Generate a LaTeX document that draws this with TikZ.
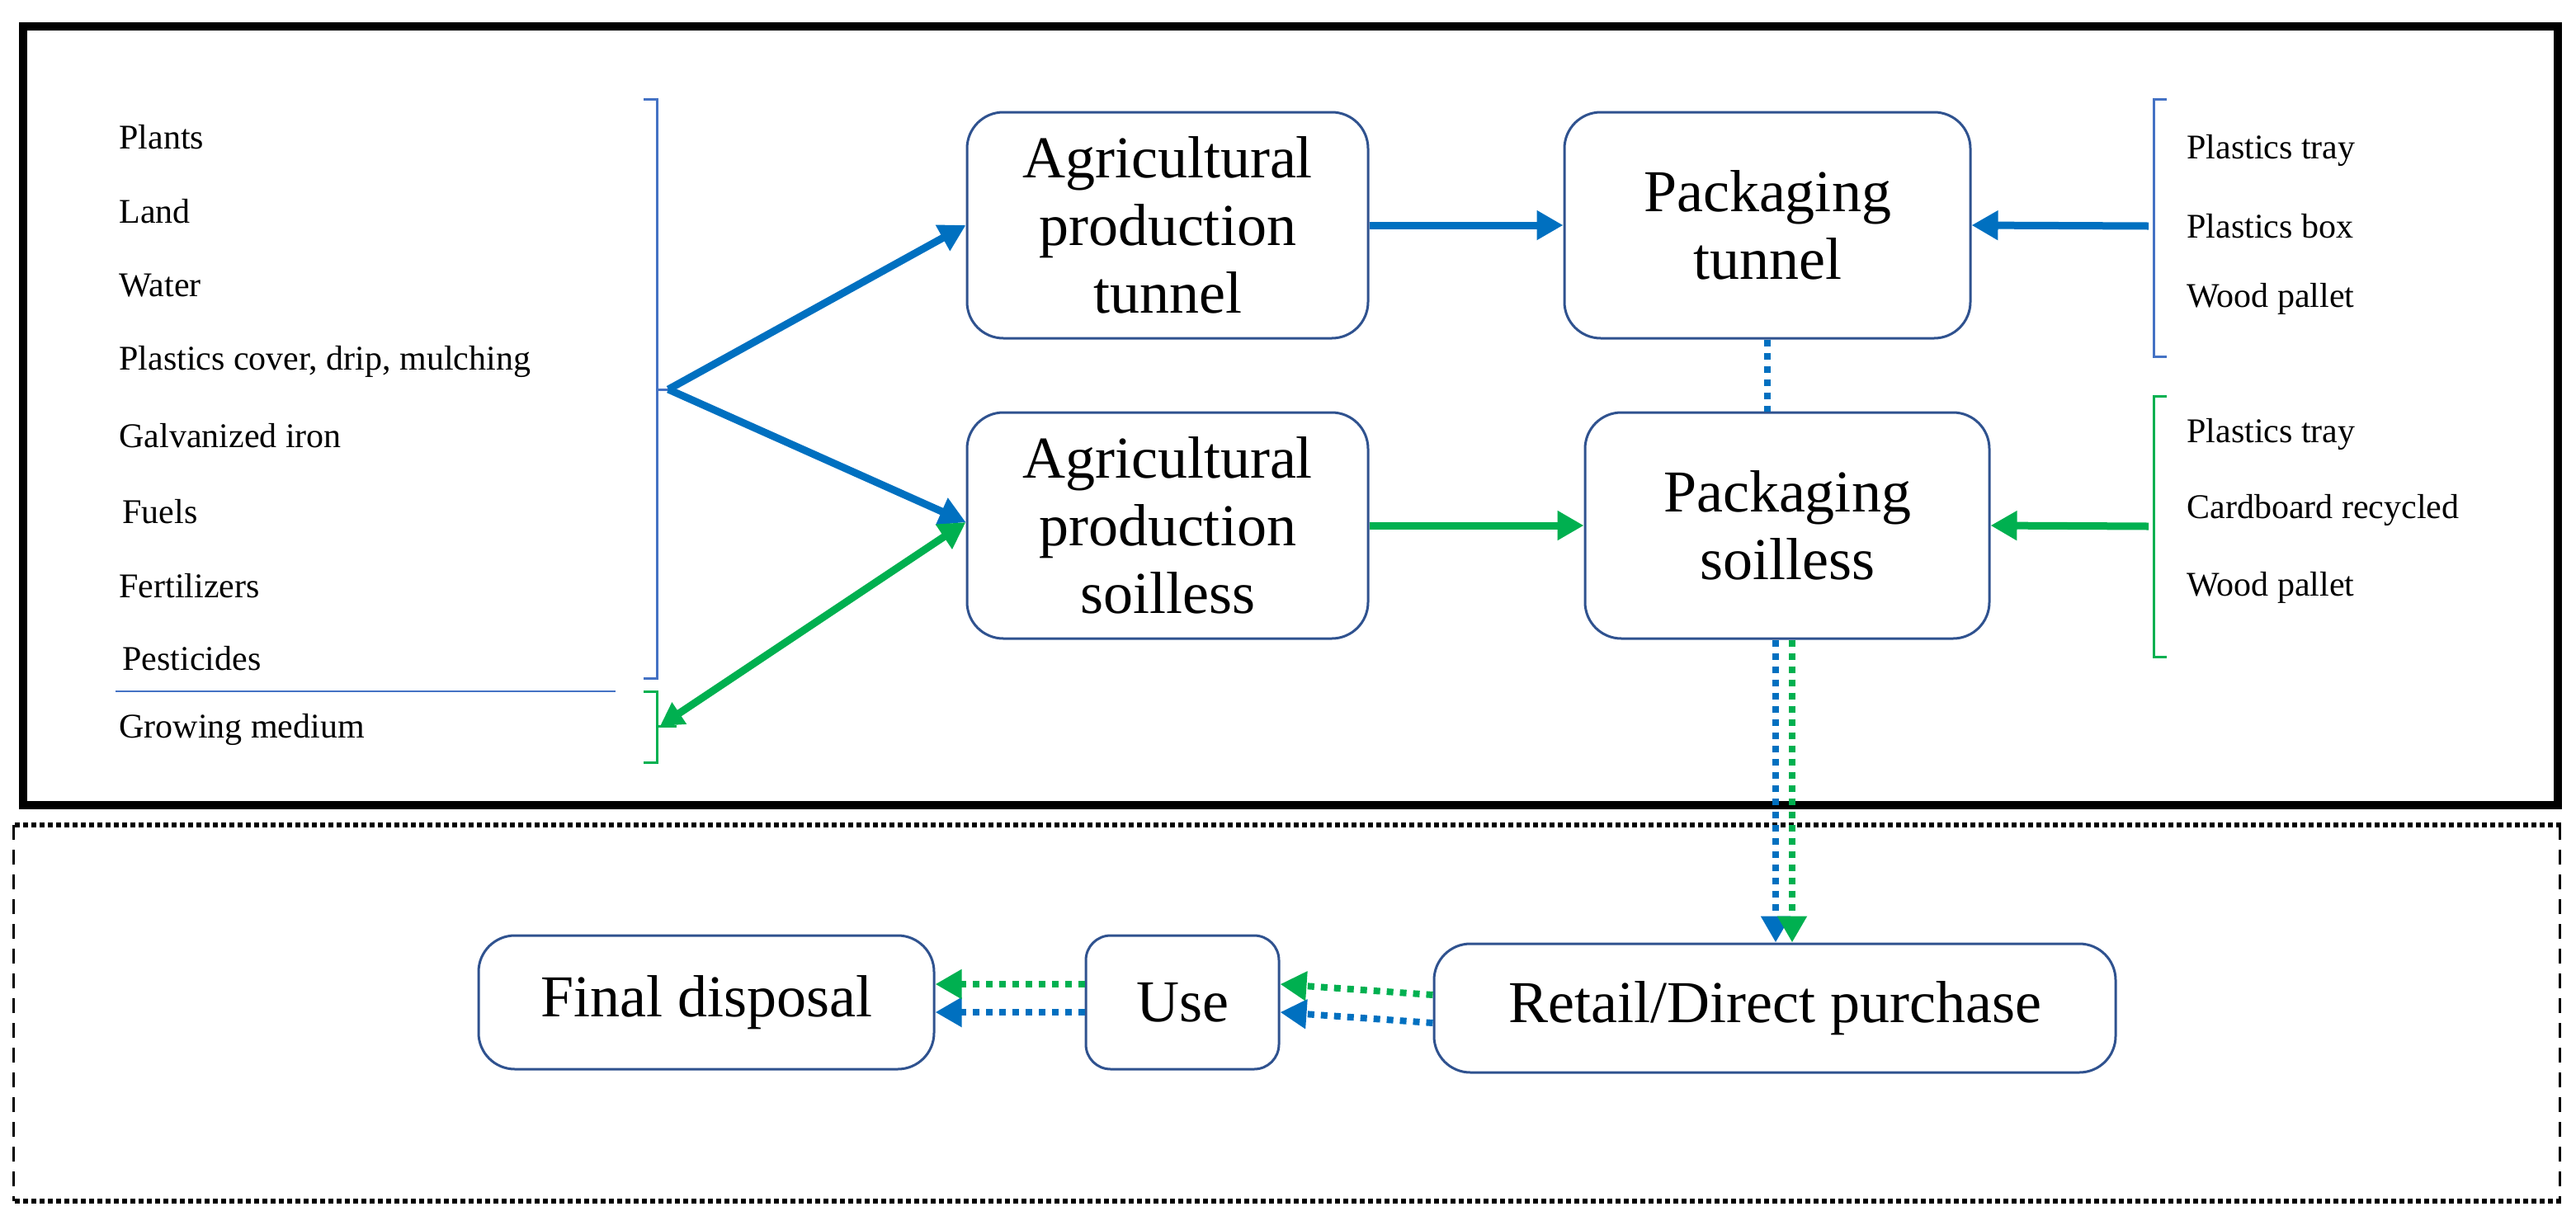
\documentclass[tikz,border=0pt]{standalone}
\usepackage{fontspec}
\setmainfont{Liberation Serif}
\usetikzlibrary{arrows.meta}
\definecolor{cb}{RGB}{0,112,192}
\definecolor{cg}{RGB}{0,176,80}
\definecolor{br}{RGB}{68,114,196}
\definecolor{bx}{RGB}{47,82,143}
\begin{document}
\begin{tikzpicture}[x=1pt,y=-1pt,
  box/.style={draw=bx,line width=1.5pt,rounded corners=22pt,align=center,font=\fontsize{36}{41}\selectfont,inner sep=0pt},
  lab/.style={anchor=west,font=\fontsize{21}{24}\selectfont,inner sep=0pt},
  tip/.style={-{Triangle[length=16pt,width=17pt]}},
  arr/.style={tip,line width=4.5pt},
  dots/.style={line width=4pt,dash pattern=on 4pt off 4pt},
  brk/.style={line width=1.5pt}]
\useasboundingbox (0,0) rectangle (1561,745);
\draw[line width=5pt] (14,16) rectangle (1550,488);
\draw[line width=3pt,dash pattern=on 3pt off 2pt] (9,500) -- (1552,500);
\draw[line width=3pt,dash pattern=on 3pt off 2pt] (9,728) -- (1552,728);
\draw[line width=1.5pt,dash pattern=on 9pt off 6pt] (8,500) -- (8,728) (1551,500) -- (1551,728);
% boxes
\node[box,minimum width=243pt,minimum height=137pt] (a1) at (707.5,136.5) {Agricultural\\production\\tunnel};
\node[box,minimum width=243pt,minimum height=137pt] (a2) at (707.5,318.5) {Agricultural\\production\\soilless};
\node[box,minimum width=246pt,minimum height=137pt] (p1) at (1071,136.5) {Packaging\\tunnel};
\node[box,minimum width=245pt,minimum height=137pt] (p2) at (1083,318.5) {Packaging\\soilless};
\node[box,minimum width=276pt,minimum height=81pt] (fd) at (428,607.5) {Final disposal};
\node[box,minimum width=117pt,minimum height=81pt,rounded corners=15pt] (use) at (716.5,607.5) {Use};
\node[box,minimum width=413pt,minimum height=78pt] (rd) at (1075.5,611) {Retail/Direct purchase};
% left labels
\foreach \t/\y/\n in {Plants/83/l1,Land/128/l2,Water/173/l3,{Plastics cover, drip, mulching}/219/l4,Galvanized iron/264/l5,Fertilizers/355/l7}
  \node[lab] (\n) at (72,\y) {\t};
\node[lab] (l6) at (74,310) {Fuels};
\node[lab] (l8) at (74,399) {Pesticides};
\node[lab] (l9) at (72,442) {Growing medium};
\draw[br,line width=1pt] (70,419) -- (373,419);
% left brackets
\draw[br,brk] (390,60) -- (398,60) -- (398,411) -- (390,411);
\draw[br,brk] (398,236) -- (405,236);
\coordinate (bb) at (405,236);
\draw[cg,brk] (390,419) -- (398,419) -- (398,462) -- (390,462);
\draw[cg,brk] (398,440) -- (410,440);
\coordinate (gb) at (400,440);
\draw[cb,arr] (bb) -- (a1.west);
\draw[cb,arr] (bb) -- ([yshift=2pt]a2.west);
\draw[cg,line width=4.5pt,{Triangle[length=14pt,width=15pt]}-{Triangle[length=16pt,width=17pt]}] (gb) -- ([yshift=2pt]a2.west);
% right labels
\foreach \t/\y/\n in {Plastics tray/91/r1,Plastics box/137/r2,Wood pallet/181/r3,Plastics tray/263/r4,Cardboard recycled/309/r5,Wood pallet/356/r6}
  \node[lab] (\n) at (1325,\y) {\t};
\draw[br,brk] (1313,60) -- (1305,60) -- (1305,216) -- (1313,216);
\draw[cg,brk] (1313,240) -- (1305,240) -- (1305,398) -- (1313,398);
\coordinate (rb) at (1302,137);
\coordinate (rg) at (1302,319);
\draw[cb,arr] (rb) -- (p1.east);
\draw[cg,arr] (rg) -- (p2.east);
\draw[cb,arr] (a1.east) -- (p1.west);
\draw[cg,arr] (a2.east) -- (p2.west);
% dotted flows
\draw[cb,dots] (p1.south) -- (p1.south |- p2.north);
\draw[cb,dots,tip] ([xshift=-7pt]p2.south) -- ([xshift=-7pt]p2.south |- rd.north);
\draw[cg,dots,tip] ([xshift=3pt]p2.south) -- ([xshift=3pt]p2.south |- rd.north);
\draw[cb,dots,tip] ([yshift=-9pt]rd.west) -- ([yshift=-6pt]use.east);
\draw[cg,dots,tip] ([yshift=8pt]rd.west) -- ([yshift=11pt]use.east);
\draw[cb,dots,tip] ([yshift=-6pt]use.west) -- ([yshift=-6pt]fd.east);
\draw[cg,dots,tip] ([yshift=11pt]use.west) -- ([yshift=11pt]fd.east);
\end{tikzpicture}
\end{document}
